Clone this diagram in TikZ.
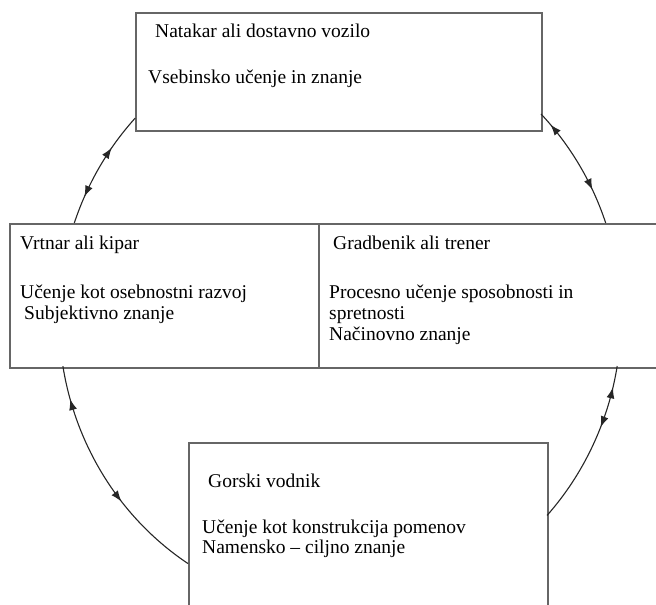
\documentclass[tikz,border=0pt]{standalone}
\usepackage{fontspec}
\setmainfont{Liberation Serif}
\usetikzlibrary{arrows.meta,decorations.markings}
\tikzset{mytip/.tip={Latex[length=11pt,width=8pt]}}
\begin{document}
\begin{tikzpicture}[x=1pt,y=-1pt,
  box/.style={draw=black!60,line width=1.6pt,rectangle,inner sep=0pt,anchor=north west},
  lbl/.style={anchor=base west,inner sep=0pt,font=\fontsize{19.5}{21}\selectfont},
  cyc/.style={line width=1.1pt,black!85},
]
\useasboundingbox (0,0) rectangle (656,605);
\clip (0,0) rectangle (656,605);
% boxes
\node[box,minimum width=406pt,minimum height=118pt] (top) at (135,12) {};
\node[box,minimum width=309pt,minimum height=144pt] (left) at (9,223) {};
\node[box,minimum width=345pt,minimum height=144pt] (right) at (318,223) {};
\node[box,minimum width=359pt,minimum height=190pt] (bottom) at (188,442) {};
% texts
\node[lbl] (t1) at (155,37) {Natakar ali dostavno vozilo};
\node[lbl] (t2) at (148,83) {Vsebinsko učenje in znanje};
\node[lbl] (l1) at (20,249) {Vrtnar ali kipar};
\node[lbl] (l2) at (20,298) {Učenje kot osebnostni razvoj};
\node[lbl] (l3) at (24,319) {Subjektivno znanje};
\node[lbl] (r1) at (333,249) {Gradbenik ali trener};
\node[lbl] (r2) at (329,298) {Procesno učenje sposobnosti in};
\node[lbl] (r3) at (329,319) {spretnosti};
\node[lbl] (r4) at (329,340) {Načinovno znanje};
\node[lbl] (b1) at (208,487) {Gorski vodnik};
\node[lbl] (b2) at (202,533) {Učenje kot konstrukcija pomenov};
\node[lbl] (b3) at (202,553) {Namensko – ciljno znanje};
% cycle arcs
\coordinate (tlA) at (135.2,118.1);
\coordinate (trA) at (541.1,114.1);
\coordinate (brA) at (617.2,366.0);
\coordinate (blA) at (62.9,366.2);
\draw[cyc,postaction={decorate},decoration={markings,
  mark=at position 0.31 with {\arrowreversed{mytip}},
  mark=at position 0.77 with {\arrow{mytip}}}]
  (tlA) arc[start angle=223.2,end angle=199,x radius=281,y radius=292];
\draw[cyc,postaction={decorate},decoration={markings,
  mark=at position 0.11 with {\arrowreversed{mytip}},
  mark=at position 0.72 with {\arrow{mytip}}}]
  (trA) arc[start angle=-44.3,end angle=-19,x radius=281,y radius=292];
\draw[cyc,postaction={decorate},decoration={markings,
  mark=at position 0.13 with {\arrowreversed{mytip}},
  mark=at position 0.38 with {\arrow{mytip}}}]
  (brA) arc[start angle=9.46,end angle=42.55,x radius=281,y radius=292];
\draw[cyc,postaction={decorate},decoration={markings,
  mark=at position 0.14 with {\arrowreversed{mytip}},
  mark=at position 0.62 with {\arrow{mytip}}}]
  (blA) arc[start angle=170.5,end angle=122.75,x radius=281,y radius=292];
\end{tikzpicture}
\end{document}
